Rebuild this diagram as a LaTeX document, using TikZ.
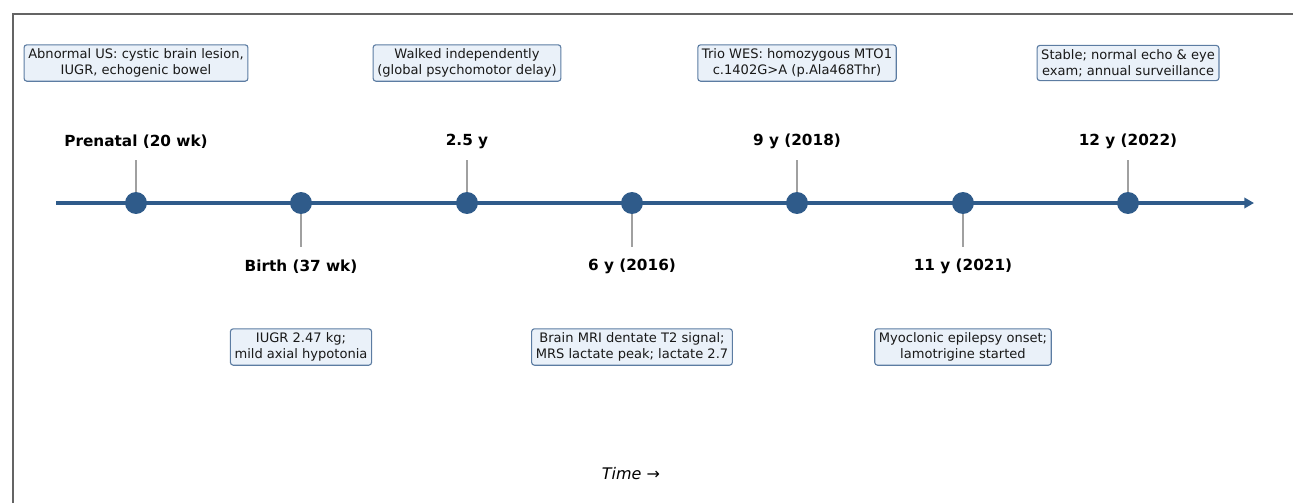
\documentclass[tikz,border=0pt]{standalone}
\usepackage{fontspec}
\setmainfont{DejaVu Sans}[ItalicFont={DejaVu Sans Oblique},BoldFont={DejaVu Sans Bold}]
\usetikzlibrary{arrows.meta}

\definecolor{lineblue}{RGB}{47,91,138}
\definecolor{boxedge}{RGB}{92,124,162}
\definecolor{boxfill}{RGB}{234,241,249}
\definecolor{stemgray}{RGB}{160,160,160}
\definecolor{framegray}{RGB}{100,100,100}

\begin{document}
\begin{tikzpicture}[x=0.72pt, y=-0.72pt,
    event/.style={draw=boxedge, fill=boxfill, rounded corners=2pt, line width=0.8pt,
      align=center, inner xsep=3pt, inner ysep=2.9pt, text=black!90,
      font=\fontsize{9.4}{11.3}\selectfont},
    datelabel/.style={font=\fontsize{11}{13}\selectfont\bfseries, inner sep=0pt},
    milestone/.style={circle, fill=lineblue, minimum size=15.8pt, inner sep=0pt},
    stem/.style={draw=stemgray, line width=1pt}]
      \useasboundingbox (0,0) rectangle (1293,503);
      \draw[framegray, line width=0.8pt] (13,503) -- (13,14) -- (1293,14);

      % timeline
      \coordinate (t0) at (56,203);
      \coordinate (t1) at (1254,203);
      \draw[lineblue, line width=2.2pt, -{Triangle[length=7pt, width=7.5pt]}] (t0) -- (t1);

      \coordinate (s1) at (136,160);
      \coordinate (s2) at (301,247);
      \coordinate (s3) at (467,160);
      \coordinate (s4) at (632,247);
      \coordinate (s5) at (797,160);
      \coordinate (s6) at (963,247);
      \coordinate (s7) at (1128,160);

      \draw[stem] (136,203) -- (s1);
      \draw[stem] (301,203) -- (s2);
      \draw[stem] (467,203) -- (s3);
      \draw[stem] (632,203) -- (s4);
      \draw[stem] (797,203) -- (s5);
      \draw[stem] (963,203) -- (s6);
      \draw[stem] (1128,203) -- (s7);

      \node[milestone] (d1) at (136,203) {};
      \node[milestone] (d2) at (301,203) {};
      \node[milestone] (d3) at (467,203) {};
      \node[milestone] (d4) at (632,203) {};
      \node[milestone] (d5) at (797,203) {};
      \node[milestone] (d6) at (963,203) {};
      \node[milestone] (d7) at (1128,203) {};

      \node[datelabel] (l1) at (136,141.5) {Prenatal (20 wk)};
      \node[datelabel] (l2) at (301,266.5) {Birth (37 wk)};
      \node[datelabel] (l3) at (467,141.5) {2.5 y};
      \node[datelabel] (l4) at (632,266.5) {6 y (2016)};
      \node[datelabel] (l5) at (797,141.5) {9 y (2018)};
      \node[datelabel] (l6) at (963,266.5) {11 y (2021)};
      \node[datelabel] (l7) at (1128,141.5) {12 y (2022)};

      \node[event] (b1) at (136,63) {Abnormal US: cystic brain lesion,\\IUGR, echogenic bowel};
      \node[event] (b2) at (301,347) {IUGR 2.47 kg;\\mild axial hypotonia};
      \node[event] (b3) at (467,63) {Walked independently\\(global psychomotor delay)};
      \node[event] (b4) at (632,347) {Brain MRI dentate T2 signal;\\MRS lactate peak; lactate 2.7};
      \node[event] (b5) at (797,63) {Trio WES: homozygous MTO1\\c.1402G>A (p.Ala468Thr)};
      \node[event] (b6) at (963,347) {Myoclonic epilepsy onset;\\lamotrigine started};
      \node[event] (b7) at (1128,63) {Stable; normal echo \& eye\\exam; annual surveillance};

      \node[font=\fontsize{11.5}{13}\selectfont\itshape] (time) at (631,474) {Time →};
\end{tikzpicture}
\end{document}
